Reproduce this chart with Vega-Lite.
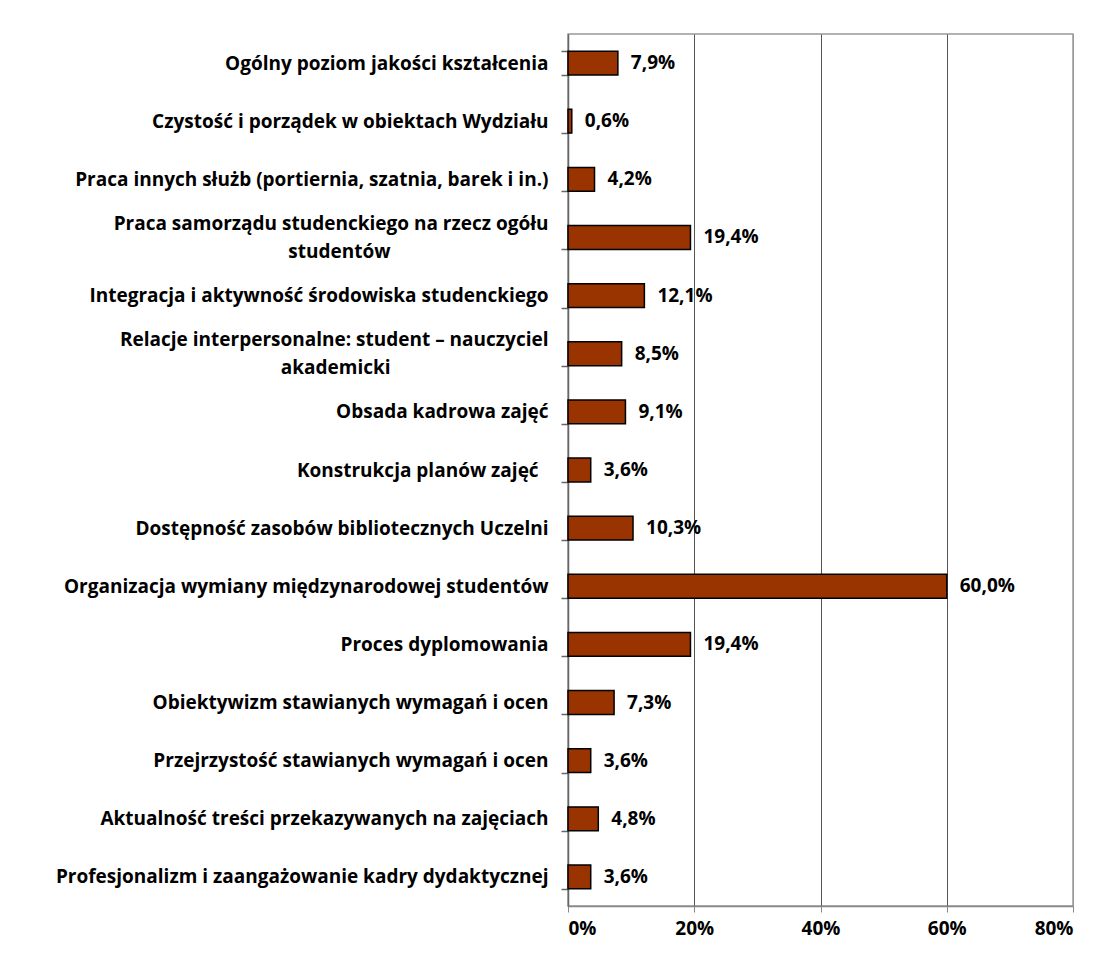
{
  "$schema": "https://vega.github.io/schema/vega-lite/v6.json",
  "width": 505,
  "height": 872,
  "padding": {"left": 55, "top": 25, "right": 30, "bottom": 10},
  "background": "white",
  "config": {
    "locale": {"number": {"decimal": ",", "thousands": " ", "grouping": [3], "currency": ["", " zł"]}},
    "view": {"stroke": "#999999", "strokeWidth": 1.5},
    "font": "Open Sans"
  },
  "data": {
    "values": [
      {"kategoria": "Ogólny poziom jakości kształcenia", "wartosc": 0.079},
      {"kategoria": "Czystość i porządek w obiektach Wydziału", "wartosc": 0.006},
      {"kategoria": "Praca innych służb (portiernia, szatnia, barek i in.)", "wartosc": 0.042},
      {"kategoria": "Praca samorządu studenckiego na rzecz ogółu\nstudentów", "wartosc": 0.194},
      {"kategoria": "Integracja i aktywność środowiska studenckiego", "wartosc": 0.121},
      {"kategoria": "Relacje interpersonalne: student – nauczyciel\nakademicki", "wartosc": 0.085},
      {"kategoria": "Obsada kadrowa zajęć", "wartosc": 0.091},
      {"kategoria": "Konstrukcja planów zajęć ", "wartosc": 0.036},
      {"kategoria": "Dostępność zasobów bibliotecznych Uczelni", "wartosc": 0.103},
      {"kategoria": "Organizacja wymiany międzynarodowej studentów", "wartosc": 0.6},
      {"kategoria": "Proces dyplomowania", "wartosc": 0.194},
      {"kategoria": "Obiektywizm stawianych wymagań i ocen", "wartosc": 0.073},
      {"kategoria": "Przejrzystość stawianych wymagań i ocen", "wartosc": 0.036},
      {"kategoria": "Aktualność treści przekazywanych na zajęciach", "wartosc": 0.048},
      {"kategoria": "Profesjonalizm i zaangażowanie kadry dydaktycznej", "wartosc": 0.036}
    ]
  },
  "encoding": {
    "y": {
      "field": "kategoria",
      "type": "nominal",
      "sort": null,
      "title": null,
      "scale": {"paddingInner": 0.59, "paddingOuter": 0.295},
      "axis": {
        "tickBand": "extent",
        "labelExpr": "datum.value == null ? '' : (indexof(datum.value, '\\n') >= 0 ? [split(datum.value, '\\n')[0], pad(split(datum.value, '\\n')[1], length(split(datum.value, '\\n')[1]) + 32, '\u00a0') + '\u200b'] : (slice(datum.value, -1) == ' ' ? datum.value + '\u00a0\u200b' : datum.value))",
        "labelFont": "Open Sans",
        "labelFontWeight": "bold",
        "labelFontSize": 19,
        "labelColor": "#000000",
        "labelLimit": 0,
        "labelLineHeight": 28,
        "labelOffset": {"condition": {"test": "datum.value != null && indexof(datum.value, '\\n') >= 0", "value": -14}, "value": 0},
        "labelPadding": 13,
        "tickSize": 7,
        "tickColor": "#666666",
        "tickWidth": 1.5,
        "domainColor": "#666666",
        "domainWidth": 1.5,
        "grid": false
      }
    },
    "x": {
      "field": "wartosc",
      "type": "quantitative",
      "title": null,
      "scale": {"domain": [0, 0.8], "nice": false},
      "axis": {
        "values": [0, 0.2, 0.4, 0.6, 0.8],
        "format": ".0%",
        "labelFont": "Open Sans",
        "labelFontWeight": "bold",
        "labelFontSize": 19,
        "labelColor": "#000000",
        "labelPadding": 7,
        "tickSize": 6,
        "tickColor": "#888888",
        "domainColor": "#888888",
        "domainWidth": 1.5,
        "grid": true,
        "gridColor": {"condition": {"test": "datum.value >= 0.8", "value": "#999999"}, "value": "#555555"},
        "gridWidth": 1
      }
    }
  },
  "layer": [
    {
      "mark": {"type": "bar", "color": "#993300", "stroke": "#000000", "strokeWidth": 1.5}
    },
    {
      "mark": {"type": "text", "align": "left", "baseline": "middle", "dx": 13, "font": "Open Sans", "fontWeight": "bold", "fontSize": 19, "color": "#000000"},
      "encoding": {
        "text": {"field": "wartosc", "type": "quantitative", "format": ".1%"}
      }
    }
  ]
}
